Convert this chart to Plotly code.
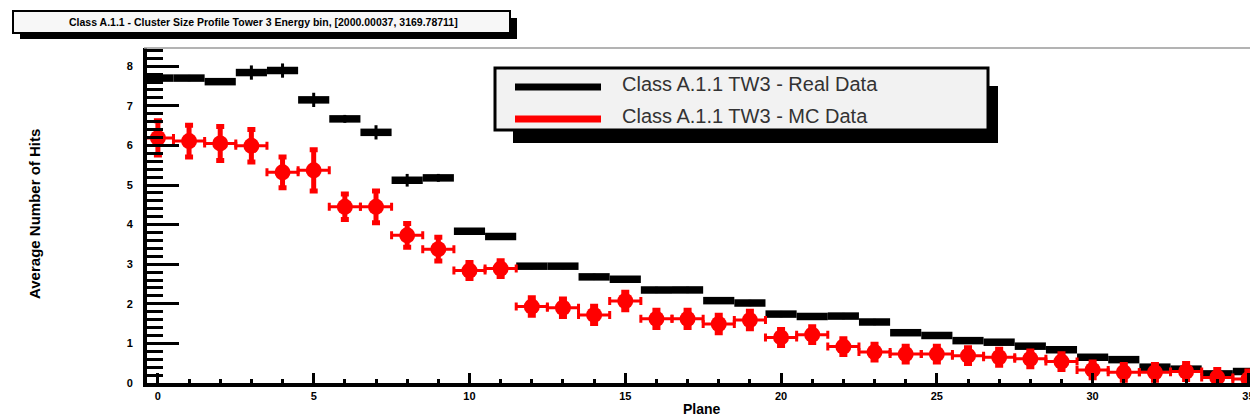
import plotly.graph_objects as go

# ---------------- data ----------------
planes = list(range(36))
real_data = [7.70, 7.70, 7.61, 7.84, 7.89, 7.15, 6.67, 6.33, 5.12, 5.18,
             3.83, 3.70, 2.95, 2.95, 2.68, 2.62, 2.35, 2.35, 2.08, 2.02,
             1.74, 1.68, 1.69, 1.54, 1.27, 1.20, 1.07, 1.03, 0.93, 0.84,
             0.65, 0.59, 0.40, 0.35, 0.23, 0.29]
real_err = [0.08, 0.08, 0.08, 0.18, 0.18, 0.18, 0.10, 0.18, 0.16, 0.10,
            0.08, 0.08, 0.08, 0.08, 0.08, 0.08, 0.08, 0.08, 0.08, 0.08,
            0.08, 0.08, 0.08, 0.08, 0.08, 0.08, 0.08, 0.08, 0.08, 0.08,
            0.08, 0.08, 0.08, 0.08, 0.08, 0.08]
mc_data = [6.19, 6.11, 6.05, 5.99, 5.32, 5.37, 4.45, 4.45, 3.73, 3.38,
           2.84, 2.89, 1.93, 1.90, 1.72, 2.07, 1.62, 1.62, 1.49, 1.59,
           1.15, 1.22, 0.92, 0.78, 0.73, 0.73, 0.69, 0.65, 0.61, 0.54,
           0.33, 0.27, 0.27, 0.29, 0.14, 0.10]
mc_err = [0.43, 0.40, 0.43, 0.41, 0.39, 0.52, 0.32, 0.40, 0.30, 0.30,
          0.20, 0.20, 0.22, 0.22, 0.22, 0.22, 0.22, 0.22, 0.22, 0.22,
          0.20, 0.20, 0.20, 0.20, 0.20, 0.20, 0.20, 0.20, 0.20, 0.20,
          0.20, 0.20, 0.20, 0.20, 0.20, 0.20]
bin_half_width = 0.5

title_text = "Class A.1.1 - Cluster Size Profile Tower 3 Energy bin, [2000.00037, 3169.78711]"
legend_real = "Class A.1.1 TW3 - Real Data"
legend_mc = "Class A.1.1 TW3 - MC Data"
x_title = "Plane"
y_title = "Average Number of Hits"

FONT = "Liberation Sans"

# ---------------- layout geometry (pixels) ----------------
W, H = 1258, 420
L, R, T, B = 139, 1256, 40, 375


def px(x):
    return (x - L) / (R - L)


def py(y):
    return (B - y) / (B - T)


fig = go.Figure()

fig.add_trace(go.Scatter(
    x=planes, y=real_data, mode="markers",
    marker=dict(size=1, color="black"),
    error_x=dict(type="constant", value=bin_half_width, thickness=7.5, width=0, color="black"),
    error_y=dict(type="data", array=real_err, thickness=3, width=0, color="black"),
    name=legend_real,
))

fig.add_trace(go.Scatter(
    x=planes, y=mc_data, mode="markers",
    marker=dict(size=16, color="#ff0000", symbol="circle"),
    error_x=dict(type="constant", value=bin_half_width, thickness=3, width=4, color="#ff0000"),
    error_y=dict(type="data", array=mc_err, thickness=5, width=4, color="#ff0000"),
    name=legend_mc,
))

shapes = []
# frame: grey top line, red right line
shapes.append(dict(type="line", xref="paper", yref="paper", x0=px(136), x1=1.0, y0=1, y1=1,
                   line=dict(color="#9a9a9a", width=1.5), layer="above"))
shapes.append(dict(type="line", xref="paper", yref="paper", x0=1.0, x1=1.0, y0=0, y1=1,
                   line=dict(color="#ff0000", width=1.5), layer="above"))

# title box with shadow
shapes.append(dict(type="rect", xref="paper", yref="paper", x0=px(12), x1=px(509), y0=py(31), y1=py(10),
                   fillcolor="black", line=dict(width=0), layer="above"))
shapes.append(dict(type="rect", xref="paper", yref="paper", x0=px(5), x1=px(502), y0=py(25), y1=py(3),
                   fillcolor="#f7f7f7", line=dict(color="black", width=2), layer="above"))

# legend box with shadow
shapes.append(dict(type="rect", xref="paper", yref="paper", x0=px(505), x1=px(990), y0=py(135), y1=py(78),
                   fillcolor="black", line=dict(width=0), layer="above"))
shapes.append(dict(type="rect", xref="paper", yref="paper", x0=px(487), x1=px(980), y0=py(122), y1=py(60),
                   fillcolor="#f2f2f2", line=dict(color="black", width=3), layer="above"))
shapes.append(dict(type="line", xref="paper", yref="paper", x0=px(507), x1=px(593), y0=py(79), y1=py(79),
                   line=dict(color="black", width=7), layer="above"))
shapes.append(dict(type="line", xref="paper", yref="paper", x0=px(507), x1=px(593), y0=py(111), y1=py(111),
                   line=dict(color="#ff0000", width=7), layer="above"))

annotations = [
    dict(text="<b>" + title_text + "</b>", xref="paper", yref="paper", x=px(255), y=py(14),
         xanchor="center", yanchor="middle", showarrow=False,
         font=dict(family=FONT, size=10.5, color="black")),
    dict(text=legend_real, xref="paper", yref="paper", x=px(612), y=py(76),
         xanchor="left", yanchor="middle", showarrow=False,
         font=dict(family=FONT, size=20, color="#333333")),
    dict(text=legend_mc, xref="paper", yref="paper", x=px(612), y=py(108),
         xanchor="left", yanchor="middle", showarrow=False,
         font=dict(family=FONT, size=20, color="#333333")),
    dict(text="<b>" + y_title + "</b>", xref="paper", yref="paper", x=px(26), y=py(206),
         xanchor="center", yanchor="middle", showarrow=False, textangle=-90,
         font=dict(family=FONT, size=15, color="black")),
    dict(text="<b>" + x_title + "</b>", xref="paper", yref="paper", x=px(694), y=py(401),
         xanchor="center", yanchor="middle", showarrow=False,
         font=dict(family=FONT, size=14, color="black")),
]

fig.update_layout(
    width=W, height=H,
    margin=dict(l=L, r=W - R, t=T, b=H - B),
    paper_bgcolor="white", plot_bgcolor="white",
    showlegend=False,
    shapes=shapes, annotations=annotations,
    font=dict(family=FONT),
    xaxis=dict(
        range=[-0.35, 35.5], showgrid=False, zeroline=False,
        showline=True, linecolor="black", linewidth=4,
        ticks="inside", ticklen=10, tickwidth=3, tickcolor="black",
        tick0=0, dtick=5,
        tickfont=dict(family=FONT, size=11, color="black", weight="bold"),
        minor=dict(ticks="inside", dtick=1, ticklen=4, tickwidth=3, tickcolor="black", showgrid=False),
    ),
    yaxis=dict(
        range=[0, 8.46], showgrid=False, zeroline=False,
        showline=True, linecolor="black", linewidth=4,
        ticks="inside", ticklen=32, tickwidth=3, tickcolor="black",
        tick0=0, dtick=1, ticklabelstandoff=8,
        tickfont=dict(family=FONT, size=11, color="black", weight="bold"),
        minor=dict(ticks="inside", dtick=0.2, ticklen=16, tickwidth=3, tickcolor="black", showgrid=False),
    ),
)

fig.write_html("out.html")
